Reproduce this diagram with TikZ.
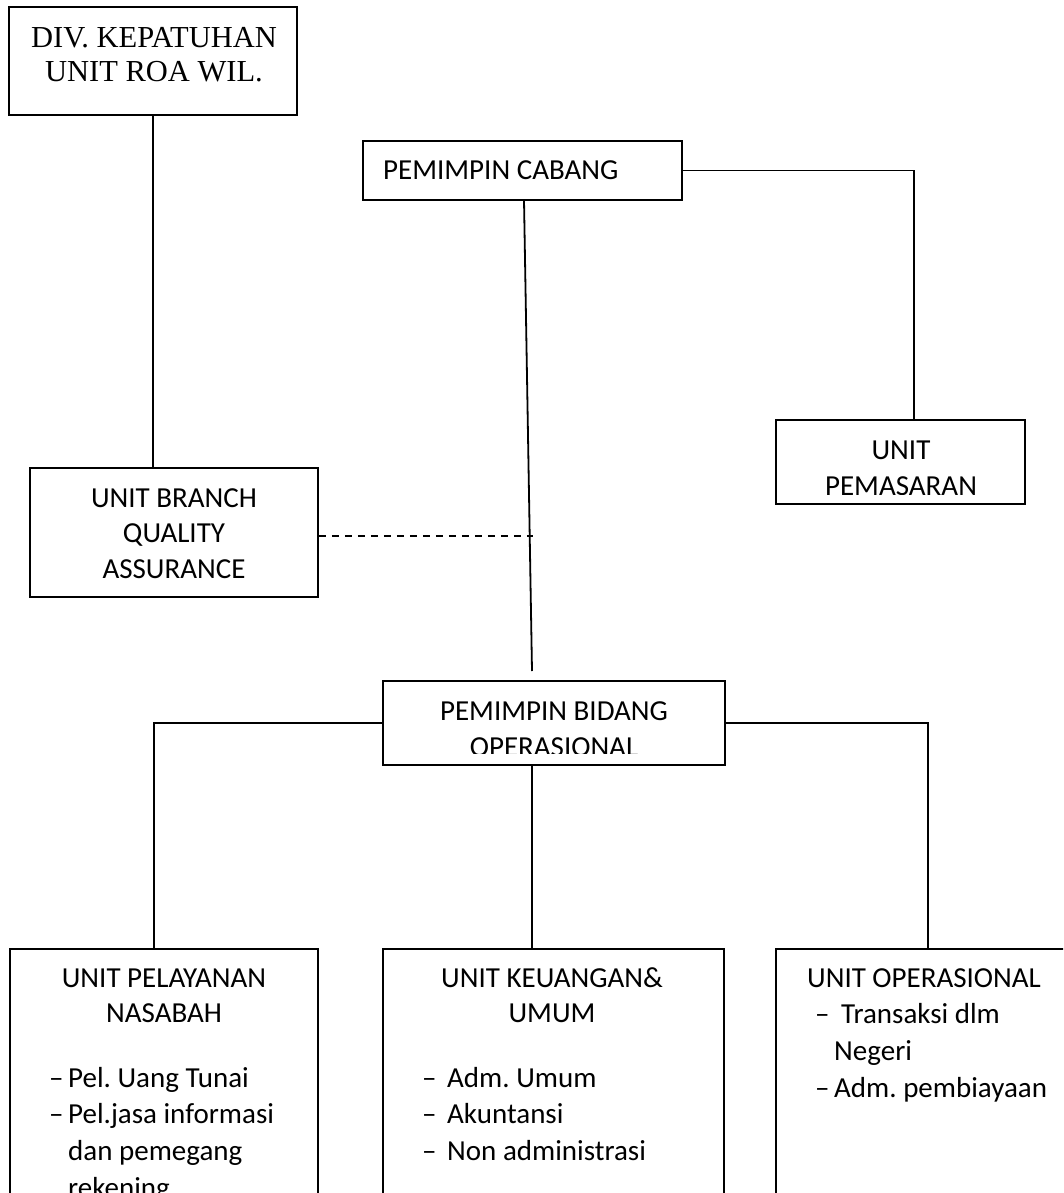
\documentclass[tikz,border=0pt]{standalone}
\usepackage{fontspec}
\setmainfont{Carlito}
\newfontfamily\divfont{Liberation Serif}
\usetikzlibrary{positioning}
\frenchspacing
\newcommand{\itemdash}[1][19pt]{\makebox[#1][l]{--}}

\begin{document}
\begin{tikzpicture}[x=1pt, y=-1pt,
    unitbox/.style={draw, line width=1.8pt, inner sep=0pt},
    txt/.style={anchor=base, inner sep=0pt, font=\fontsize{29}{36}\selectfont},
    link/.style={line width=1.8pt}]
  \useasboundingbox (0,0) rectangle (1063,1193);
  \clip (0,0) rectangle (1063,1193);

  % boxes
  \node[unitbox, minimum width=288pt, minimum height=108pt] (div) at (153,61) {};
  \node[unitbox, minimum width=319pt, minimum height=59pt] (cabang) at (522.5,170.5) {};
  \node[unitbox, minimum width=288pt, minimum height=129pt] (bqa) at (174,532.5) {};
  \node[unitbox, minimum width=249pt, minimum height=84pt] (pemasaran) at (900.5,462) {};
  \node[unitbox, minimum width=342pt, minimum height=84pt] (bidang) at (554,723) {};
  \node[unitbox, minimum width=308pt, minimum height=266pt] (pelayanan) at (164,1082) {};
  \node[unitbox, minimum width=341pt, minimum height=266pt] (keuangan) at (553.5,1082) {};
  \node[unitbox, minimum width=296pt, minimum height=266pt] (operasional) at (924,1082) {};

  % texts
  \node[txt, font=\divfont\fontsize{30.5}{34}\selectfont] (divA) at (154,48) {DIV. KEPATUHAN};
  \node[txt, font=\divfont\fontsize{30.5}{34}\selectfont] (divB) at (154,82) {UNIT ROA WIL.};
  \node[txt, anchor=base west] (cabangA) at (383,179) {PEMIMPIN CABANG};
  \node[txt] (bqaA) at (174,507) {UNIT BRANCH};
  \node[txt] (bqaB) at (174,542) {QUALITY};
  \node[txt] (bqaC) at (174,578) {ASSURANCE};
  \node[txt] (pemA) at (901,459) {UNIT};
  \begin{scope}
    \clip (pemasaran.north west) rectangle (1025,494);
    \node[txt] (pemB) at (901,495) {PEMASARAN};
  \end{scope}
  \node[txt] (bidA) at (554,720) {PEMIMPIN BIDANG};
  \begin{scope}
    \clip (bidang.north west) rectangle (725,753);
    \node[txt] (bidB) at (554,756) {OPERASIONAL};
  \end{scope}

  \node[txt] (pelA) at (164,987) {UNIT PELAYANAN};
  \node[txt] (pelB) at (164,1022) {NASABAH};
  \node[txt, anchor=base west] (pelC) at (49,1087) {\itemdash Pel. Uang Tunai};
  \node[txt, anchor=base west] (pelD) at (49,1123) {\itemdash Pel.jasa informasi};
  \node[txt, anchor=base west] (pelE) at (68,1160) {dan pemegang};
  \node[txt, anchor=base west] (pelF) at (68,1197) {rekening};

  \node[txt] (keuA) at (552,987) {UNIT KEUANGAN\&};
  \node[txt] (keuB) at (552,1022) {UMUM};
  \node[txt, anchor=base west] (keuC) at (422,1087) {\itemdash[25pt]Adm. Umum};
  \node[txt, anchor=base west] (keuD) at (422,1123) {\itemdash[25pt]Akuntansi};
  \node[txt, anchor=base west] (keuE) at (422,1160) {\itemdash[25pt]Non administrasi};

  \node[txt] (opsA) at (924,987) {UNIT OPERASIONAL};
  \node[txt, anchor=base west] (opsB) at (815,1023) {\itemdash[26pt]Transaksi dlm};
  \node[txt, anchor=base west] (opsC) at (834,1060) {Negeri};
  \node[txt, anchor=base west] (opsD) at (815,1097) {\itemdash Adm. pembiayaan};

  % connectors
  \coordinate (pemTop) at (914,420);
  \coordinate (cabFoot) at (524,200);
  \coordinate (bidTop) at (532,671);
  \coordinate (bqaEnd) at (533,536);
  \coordinate (pelTop) at (154,949);
  \coordinate (keuTop) at (532,949);
  \coordinate (opsTop) at (928,949);
  \draw[link] (div.south) -- (div.south |- bqa.north);
  \draw[link] (cabang.east) -| (pemTop);
  \draw[link] (cabFoot) -- (bidTop);
  \draw[link, dash pattern=on 7pt off 6pt] (bqa.east |- bqaEnd) -- (bqaEnd);
  \draw[link] (bidang.west) -| (pelTop);
  \draw[link] (bidang.east) -| (opsTop);
  \draw[link] (bidang.south -| keuTop) -- (keuTop);
\end{tikzpicture}
\end{document}
